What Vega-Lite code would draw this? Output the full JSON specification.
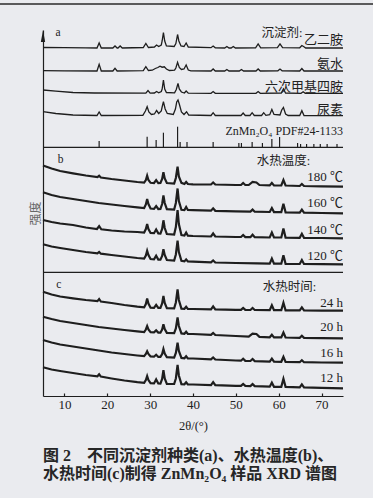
{
"$schema":"https://vega.github.io/schema/vega-lite/v6.json",
"width":300,"height":366,
"autosize":{"type":"none"},
"padding":{"left":43,"top":30,"right":30,"bottom":102},
"background":"#eaebef",
"config":{"view":{"stroke":null},"font":"Liberation Serif, Noto Sans CJK SC"},
"title":{"text":["图 2　不同沉淀剂种类(a)、水热温度(b)、","水热时间(c)制得 ZnMn₂O₄ 样品 XRD 谱图"],"orient":"bottom","anchor":"start","frame":"group","font":"Liberation Serif, Noto Sans CJK SC","fontSize":16,"fontWeight":"bold","color":"#262626","lineHeight":18,"offset":16},
"datasets":{
"xrd":[
{"p":"a","s":"a1","x":5,"y":348.5},{"p":"a","s":"a1","x":10,"y":348.3},{"p":"a","s":"a1","x":15,"y":348.2},{"p":"a","s":"a1","x":17.6,"y":348},{"p":"a","s":"a1","x":18.1,"y":353},{"p":"a","s":"a1","x":18.6,"y":348},{"p":"a","s":"a1","x":21.3,"y":348},{"p":"a","s":"a1","x":21.8,"y":350},{"p":"a","s":"a1","x":22.3,"y":348},{"p":"a","s":"a1","x":22.5,"y":348},{"p":"a","s":"a1","x":23,"y":350},{"p":"a","s":"a1","x":23.5,"y":348},{"p":"a","s":"a1","x":28.4,"y":348.5},{"p":"a","s":"a1","x":29,"y":352.5},{"p":"a","s":"a1","x":29.6,"y":348.5},{"p":"a","s":"a1","x":31,"y":349},{"p":"a","s":"a1","x":31.5,"y":351},{"p":"a","s":"a1","x":32,"y":349.5},{"p":"a","s":"a1","x":32.6,"y":351},{"p":"a","s":"a1","x":32.8,"y":355},{"p":"a","s":"a1","x":33.1,"y":363.5},{"p":"a","s":"a1","x":33.4,"y":355},{"p":"a","s":"a1","x":33.8,"y":350},{"p":"a","s":"a1","x":35.6,"y":349.5},{"p":"a","s":"a1","x":36,"y":352.5},{"p":"a","s":"a1","x":36.4,"y":361.5},{"p":"a","s":"a1","x":36.7,"y":355},{"p":"a","s":"a1","x":37.2,"y":350},{"p":"a","s":"a1","x":37.9,"y":349.5},{"p":"a","s":"a1","x":38.4,"y":353},{"p":"a","s":"a1","x":38.9,"y":349},{"p":"a","s":"a1","x":44.2,"y":348.3},{"p":"a","s":"a1","x":44.7,"y":350},{"p":"a","s":"a1","x":45.2,"y":348.2},{"p":"a","s":"a1","x":47.4,"y":348},{"p":"a","s":"a1","x":47.9,"y":349.5},{"p":"a","s":"a1","x":48.4,"y":348},{"p":"a","s":"a1","x":48.9,"y":348},{"p":"a","s":"a1","x":49.4,"y":349.5},{"p":"a","s":"a1","x":49.9,"y":348},{"p":"a","s":"a1","x":54.6,"y":348.2},{"p":"a","s":"a1","x":55.2,"y":352},{"p":"a","s":"a1","x":55.8,"y":348.2},{"p":"a","s":"a1","x":59.7,"y":348.3},{"p":"a","s":"a1","x":60.3,"y":352},{"p":"a","s":"a1","x":60.9,"y":348.3},{"p":"a","s":"a1","x":64.9,"y":348.2},{"p":"a","s":"a1","x":65.4,"y":350.5},{"p":"a","s":"a1","x":65.8,"y":349.5},{"p":"a","s":"a1","x":66.3,"y":348},{"p":"a","s":"a1","x":70,"y":348},{"p":"a","s":"a1","x":75,"y":348},
{"p":"a","s":"a2","x":5,"y":325.3},{"p":"a","s":"a2","x":10,"y":325.2},{"p":"a","s":"a2","x":17.6,"y":325},{"p":"a","s":"a2","x":18.1,"y":331.7},{"p":"a","s":"a2","x":18.6,"y":325},{"p":"a","s":"a2","x":21.3,"y":325},{"p":"a","s":"a2","x":21.8,"y":327.7},{"p":"a","s":"a2","x":22.3,"y":325},{"p":"a","s":"a2","x":28.4,"y":325.3},{"p":"a","s":"a2","x":29,"y":329.3},{"p":"a","s":"a2","x":29.6,"y":325.5},{"p":"a","s":"a2","x":30.5,"y":325.8},{"p":"a","s":"a2","x":31.2,"y":327.5},{"p":"a","s":"a2","x":31.8,"y":328.5},{"p":"a","s":"a2","x":32.3,"y":329.8},{"p":"a","s":"a2","x":32.8,"y":328.8},{"p":"a","s":"a2","x":33.3,"y":329.2},{"p":"a","s":"a2","x":33.8,"y":327},{"p":"a","s":"a2","x":34.5,"y":325.5},{"p":"a","s":"a2","x":35.7,"y":325.8},{"p":"a","s":"a2","x":36,"y":328},{"p":"a","s":"a2","x":36.4,"y":333.7},{"p":"a","s":"a2","x":36.8,"y":328.5},{"p":"a","s":"a2","x":37.3,"y":326.5},{"p":"a","s":"a2","x":37.9,"y":327},{"p":"a","s":"a2","x":38.4,"y":331},{"p":"a","s":"a2","x":38.9,"y":326},{"p":"a","s":"a2","x":39.5,"y":325.2},{"p":"a","s":"a2","x":44.2,"y":325},{"p":"a","s":"a2","x":44.7,"y":327},{"p":"a","s":"a2","x":45.2,"y":325},{"p":"a","s":"a2","x":47.4,"y":325},{"p":"a","s":"a2","x":47.9,"y":326.5},{"p":"a","s":"a2","x":48.4,"y":325},{"p":"a","s":"a2","x":50.8,"y":325},{"p":"a","s":"a2","x":51.3,"y":326.5},{"p":"a","s":"a2","x":51.8,"y":325},{"p":"a","s":"a2","x":54.7,"y":325},{"p":"a","s":"a2","x":55.2,"y":327},{"p":"a","s":"a2","x":55.7,"y":325},{"p":"a","s":"a2","x":59.8,"y":325.2},{"p":"a","s":"a2","x":60.3,"y":327},{"p":"a","s":"a2","x":60.8,"y":325.2},{"p":"a","s":"a2","x":64.9,"y":325},{"p":"a","s":"a2","x":65.4,"y":327.5},{"p":"a","s":"a2","x":65.9,"y":325},{"p":"a","s":"a2","x":70,"y":325},{"p":"a","s":"a2","x":75,"y":325},
{"p":"a","s":"a3","x":5,"y":306},{"p":"a","s":"a3","x":8,"y":304.8},{"p":"a","s":"a3","x":12,"y":303.5},{"p":"a","s":"a3","x":17,"y":303},{"p":"a","s":"a3","x":29,"y":302.8},{"p":"a","s":"a3","x":29.5,"y":305.5},{"p":"a","s":"a3","x":30,"y":302.8},{"p":"a","s":"a3","x":31,"y":303},{"p":"a","s":"a3","x":31.5,"y":304.5},{"p":"a","s":"a3","x":32,"y":303.2},{"p":"a","s":"a3","x":32.6,"y":304.5},{"p":"a","s":"a3","x":32.8,"y":307},{"p":"a","s":"a3","x":33.1,"y":316},{"p":"a","s":"a3","x":33.4,"y":307},{"p":"a","s":"a3","x":33.8,"y":303.5},{"p":"a","s":"a3","x":35.7,"y":303.2},{"p":"a","s":"a3","x":36.1,"y":306.5},{"p":"a","s":"a3","x":36.5,"y":312.7},{"p":"a","s":"a3","x":36.8,"y":307},{"p":"a","s":"a3","x":37.3,"y":304},{"p":"a","s":"a3","x":38,"y":303},{"p":"a","s":"a3","x":38.4,"y":305},{"p":"a","s":"a3","x":38.9,"y":302.8},{"p":"a","s":"a3","x":44.2,"y":302.7},{"p":"a","s":"a3","x":44.7,"y":304.5},{"p":"a","s":"a3","x":45.2,"y":302.7},{"p":"a","s":"a3","x":54.7,"y":302.7},{"p":"a","s":"a3","x":55.2,"y":304.5},{"p":"a","s":"a3","x":55.7,"y":302.7},{"p":"a","s":"a3","x":60.6,"y":303},{"p":"a","s":"a3","x":61.1,"y":307},{"p":"a","s":"a3","x":61.6,"y":303},{"p":"a","s":"a3","x":65.2,"y":302.7},{"p":"a","s":"a3","x":65.7,"y":304.2},{"p":"a","s":"a3","x":66.2,"y":302.7},{"p":"a","s":"a3","x":75,"y":302.7},
{"p":"a","s":"a4","x":5,"y":284.3},{"p":"a","s":"a4","x":8,"y":282.5},{"p":"a","s":"a4","x":12,"y":281},{"p":"a","s":"a4","x":17.6,"y":280.5},{"p":"a","s":"a4","x":18.1,"y":284},{"p":"a","s":"a4","x":18.6,"y":280.5},{"p":"a","s":"a4","x":28.3,"y":280.6},{"p":"a","s":"a4","x":28.9,"y":285},{"p":"a","s":"a4","x":29.3,"y":289.3},{"p":"a","s":"a4","x":29.7,"y":284},{"p":"a","s":"a4","x":30.3,"y":281.5},{"p":"a","s":"a4","x":31,"y":282},{"p":"a","s":"a4","x":31.5,"y":285.5},{"p":"a","s":"a4","x":32,"y":282.5},{"p":"a","s":"a4","x":32.6,"y":285},{"p":"a","s":"a4","x":32.8,"y":289},{"p":"a","s":"a4","x":33.1,"y":294.3},{"p":"a","s":"a4","x":33.5,"y":287},{"p":"a","s":"a4","x":34,"y":282.5},{"p":"a","s":"a4","x":35.4,"y":281.5},{"p":"a","s":"a4","x":35.9,"y":287},{"p":"a","s":"a4","x":36.2,"y":294},{"p":"a","s":"a4","x":36.5,"y":296},{"p":"a","s":"a4","x":36.8,"y":292},{"p":"a","s":"a4","x":37.3,"y":284},{"p":"a","s":"a4","x":37.9,"y":281.5},{"p":"a","s":"a4","x":38.5,"y":284.3},{"p":"a","s":"a4","x":39,"y":281},{"p":"a","s":"a4","x":44.2,"y":280.5},{"p":"a","s":"a4","x":44.7,"y":283.3},{"p":"a","s":"a4","x":45.2,"y":280.5},{"p":"a","s":"a4","x":51.2,"y":280.5},{"p":"a","s":"a4","x":51.7,"y":283},{"p":"a","s":"a4","x":52.2,"y":280.5},{"p":"a","s":"a4","x":53.3,"y":280.5},{"p":"a","s":"a4","x":53.8,"y":283.3},{"p":"a","s":"a4","x":54.3,"y":280.5},{"p":"a","s":"a4","x":56,"y":280.5},{"p":"a","s":"a4","x":56.5,"y":283.3},{"p":"a","s":"a4","x":57,"y":280.7},{"p":"a","s":"a4","x":57.9,"y":281.3},{"p":"a","s":"a4","x":58.4,"y":286.5},{"p":"a","s":"a4","x":58.9,"y":281.5},{"p":"a","s":"a4","x":60.3,"y":281},{"p":"a","s":"a4","x":60.7,"y":286},{"p":"a","s":"a4","x":61.1,"y":288.5},{"p":"a","s":"a4","x":61.6,"y":282},{"p":"a","s":"a4","x":62.2,"y":280.5},{"p":"a","s":"a4","x":64.9,"y":280.5},{"p":"a","s":"a4","x":65.4,"y":285.3},{"p":"a","s":"a4","x":65.9,"y":280.5},{"p":"a","s":"a4","x":75,"y":280.3},
{"p":"b","s":"b1","x":5,"y":230.5},{"p":"b","s":"b1","x":7,"y":227.5},{"p":"b","s":"b1","x":9,"y":225},{"p":"b","s":"b1","x":12,"y":222.7},{"p":"b","s":"b1","x":15,"y":220.5},{"p":"b","s":"b1","x":17.7,"y":218.8},{"p":"b","s":"b1","x":18.1,"y":220.2},{"p":"b","s":"b1","x":18.5,"y":218.5},{"p":"b","s":"b1","x":21,"y":217},{"p":"b","s":"b1","x":24,"y":215.5},{"p":"b","s":"b1","x":27,"y":214},{"p":"b","s":"b1","x":28.6,"y":213.4},{"p":"b","s":"b1","x":29,"y":216},{"p":"b","s":"b1","x":29.3,"y":220.3},{"p":"b","s":"b1","x":29.6,"y":216},{"p":"b","s":"b1","x":30.1,"y":213.2},{"p":"b","s":"b1","x":30.9,"y":213},{"p":"b","s":"b1","x":31.4,"y":215.8},{"p":"b","s":"b1","x":31.9,"y":212.8},{"p":"b","s":"b1","x":32.4,"y":213},{"p":"b","s":"b1","x":32.8,"y":217},{"p":"b","s":"b1","x":33.1,"y":223.7},{"p":"b","s":"b1","x":33.4,"y":217.5},{"p":"b","s":"b1","x":33.9,"y":213},{"p":"b","s":"b1","x":35.6,"y":212.4},{"p":"b","s":"b1","x":36,"y":218},{"p":"b","s":"b1","x":36.4,"y":229.3},{"p":"b","s":"b1","x":36.7,"y":219.5},{"p":"b","s":"b1","x":37.3,"y":213.2},{"p":"b","s":"b1","x":38,"y":212},{"p":"b","s":"b1","x":38.4,"y":214},{"p":"b","s":"b1","x":38.8,"y":212},{"p":"b","s":"b1","x":40,"y":211.7},{"p":"b","s":"b1","x":44.2,"y":211.5},{"p":"b","s":"b1","x":44.7,"y":213.5},{"p":"b","s":"b1","x":45.2,"y":211.5},{"p":"b","s":"b1","x":50,"y":211},{"p":"b","s":"b1","x":51.2,"y":211},{"p":"b","s":"b1","x":51.7,"y":213},{"p":"b","s":"b1","x":52.2,"y":211},{"p":"b","s":"b1","x":53,"y":211},{"p":"b","s":"b1","x":53.9,"y":214},{"p":"b","s":"b1","x":54.8,"y":213.5},{"p":"b","s":"b1","x":55.5,"y":211},{"p":"b","s":"b1","x":57.9,"y":210.6},{"p":"b","s":"b1","x":58.4,"y":213},{"p":"b","s":"b1","x":58.9,"y":210.6},{"p":"b","s":"b1","x":60.6,"y":210.5},{"p":"b","s":"b1","x":61.1,"y":216},{"p":"b","s":"b1","x":61.6,"y":210.5},{"p":"b","s":"b1","x":64.9,"y":210},{"p":"b","s":"b1","x":65.4,"y":212},{"p":"b","s":"b1","x":65.9,"y":210},{"p":"b","s":"b1","x":70,"y":209.7},{"p":"b","s":"b1","x":75,"y":209.3},
{"p":"b","s":"b2","x":5,"y":203.7},{"p":"b","s":"b2","x":7,"y":201},{"p":"b","s":"b2","x":9,"y":199},{"p":"b","s":"b2","x":12,"y":197},{"p":"b","s":"b2","x":15,"y":195},{"p":"b","s":"b2","x":18,"y":193},{"p":"b","s":"b2","x":21,"y":191.5},{"p":"b","s":"b2","x":24,"y":190},{"p":"b","s":"b2","x":27,"y":188.7},{"p":"b","s":"b2","x":28.6,"y":188},{"p":"b","s":"b2","x":29,"y":191.5},{"p":"b","s":"b2","x":29.3,"y":197},{"p":"b","s":"b2","x":29.6,"y":192},{"p":"b","s":"b2","x":30.1,"y":187.5},{"p":"b","s":"b2","x":30.9,"y":187.2},{"p":"b","s":"b2","x":31.4,"y":190},{"p":"b","s":"b2","x":31.9,"y":187},{"p":"b","s":"b2","x":32.4,"y":187.1},{"p":"b","s":"b2","x":32.8,"y":192},{"p":"b","s":"b2","x":33.1,"y":200.5},{"p":"b","s":"b2","x":33.4,"y":193},{"p":"b","s":"b2","x":33.9,"y":186.8},{"p":"b","s":"b2","x":35.6,"y":186.4},{"p":"b","s":"b2","x":36,"y":193},{"p":"b","s":"b2","x":36.4,"y":207.5},{"p":"b","s":"b2","x":36.7,"y":195},{"p":"b","s":"b2","x":37.3,"y":186.2},{"p":"b","s":"b2","x":38,"y":186},{"p":"b","s":"b2","x":38.4,"y":189},{"p":"b","s":"b2","x":38.8,"y":186},{"p":"b","s":"b2","x":40,"y":185.8},{"p":"b","s":"b2","x":44.2,"y":185.3},{"p":"b","s":"b2","x":44.7,"y":187.7},{"p":"b","s":"b2","x":45.2,"y":185.2},{"p":"b","s":"b2","x":50,"y":184.7},{"p":"b","s":"b2","x":53.4,"y":184.4},{"p":"b","s":"b2","x":53.9,"y":186.4},{"p":"b","s":"b2","x":54.4,"y":184.3},{"p":"b","s":"b2","x":57.9,"y":184},{"p":"b","s":"b2","x":58.4,"y":188},{"p":"b","s":"b2","x":58.9,"y":183.9},{"p":"b","s":"b2","x":60.6,"y":183.8},{"p":"b","s":"b2","x":61.1,"y":192.2},{"p":"b","s":"b2","x":61.6,"y":183.7},{"p":"b","s":"b2","x":64.9,"y":183.3},{"p":"b","s":"b2","x":65.4,"y":186.3},{"p":"b","s":"b2","x":65.9,"y":183.3},{"p":"b","s":"b2","x":70,"y":183},{"p":"b","s":"b2","x":75,"y":182.7},
{"p":"b","s":"b3","x":5,"y":176},{"p":"b","s":"b3","x":7,"y":174},{"p":"b","s":"b3","x":9,"y":172.5},{"p":"b","s":"b3","x":12,"y":171},{"p":"b","s":"b3","x":15,"y":168.5},{"p":"b","s":"b3","x":17.6,"y":167},{"p":"b","s":"b3","x":18.1,"y":169.8},{"p":"b","s":"b3","x":18.6,"y":166.7},{"p":"b","s":"b3","x":21,"y":165.5},{"p":"b","s":"b3","x":24,"y":164.5},{"p":"b","s":"b3","x":27,"y":164},{"p":"b","s":"b3","x":28.6,"y":163.5},{"p":"b","s":"b3","x":29,"y":167},{"p":"b","s":"b3","x":29.3,"y":172},{"p":"b","s":"b3","x":29.6,"y":167},{"p":"b","s":"b3","x":30.1,"y":163},{"p":"b","s":"b3","x":30.9,"y":162.8},{"p":"b","s":"b3","x":31.4,"y":166.5},{"p":"b","s":"b3","x":31.9,"y":162.6},{"p":"b","s":"b3","x":32.4,"y":162.4},{"p":"b","s":"b3","x":32.8,"y":167},{"p":"b","s":"b3","x":33.1,"y":175.7},{"p":"b","s":"b3","x":33.4,"y":168},{"p":"b","s":"b3","x":33.9,"y":162},{"p":"b","s":"b3","x":35.6,"y":161.5},{"p":"b","s":"b3","x":36,"y":169},{"p":"b","s":"b3","x":36.4,"y":186},{"p":"b","s":"b3","x":36.7,"y":172},{"p":"b","s":"b3","x":37.3,"y":161},{"p":"b","s":"b3","x":38,"y":160.5},{"p":"b","s":"b3","x":38.4,"y":163.5},{"p":"b","s":"b3","x":38.8,"y":160.3},{"p":"b","s":"b3","x":40,"y":160},{"p":"b","s":"b3","x":44.2,"y":159.5},{"p":"b","s":"b3","x":44.7,"y":162.5},{"p":"b","s":"b3","x":45.2,"y":159.5},{"p":"b","s":"b3","x":50,"y":159},{"p":"b","s":"b3","x":51.2,"y":159},{"p":"b","s":"b3","x":51.7,"y":161},{"p":"b","s":"b3","x":52.2,"y":158.9},{"p":"b","s":"b3","x":53.4,"y":158.8},{"p":"b","s":"b3","x":53.9,"y":161.3},{"p":"b","s":"b3","x":54.4,"y":158.8},{"p":"b","s":"b3","x":57.9,"y":158.5},{"p":"b","s":"b3","x":58.4,"y":163.5},{"p":"b","s":"b3","x":58.9,"y":158.5},{"p":"b","s":"b3","x":60.6,"y":158.5},{"p":"b","s":"b3","x":61.1,"y":167.5},{"p":"b","s":"b3","x":61.6,"y":158.4},{"p":"b","s":"b3","x":64.9,"y":158.2},{"p":"b","s":"b3","x":65.4,"y":162.2},{"p":"b","s":"b3","x":65.9,"y":158.2},{"p":"b","s":"b3","x":70,"y":158},{"p":"b","s":"b3","x":75,"y":157.7},
{"p":"b","s":"b4","x":5,"y":151.7},{"p":"b","s":"b4","x":7,"y":149.5},{"p":"b","s":"b4","x":9,"y":148},{"p":"b","s":"b4","x":12,"y":146},{"p":"b","s":"b4","x":15,"y":144},{"p":"b","s":"b4","x":17.7,"y":142.6},{"p":"b","s":"b4","x":18.1,"y":144},{"p":"b","s":"b4","x":18.5,"y":142.3},{"p":"b","s":"b4","x":21,"y":141},{"p":"b","s":"b4","x":24,"y":139.5},{"p":"b","s":"b4","x":27,"y":138},{"p":"b","s":"b4","x":28.6,"y":137.5},{"p":"b","s":"b4","x":29,"y":140.5},{"p":"b","s":"b4","x":29.3,"y":145.2},{"p":"b","s":"b4","x":29.6,"y":141},{"p":"b","s":"b4","x":30.1,"y":137},{"p":"b","s":"b4","x":30.9,"y":136.6},{"p":"b","s":"b4","x":31.4,"y":140.3},{"p":"b","s":"b4","x":31.9,"y":136.4},{"p":"b","s":"b4","x":32.4,"y":136.3},{"p":"b","s":"b4","x":32.8,"y":140},{"p":"b","s":"b4","x":33.1,"y":146.7},{"p":"b","s":"b4","x":33.4,"y":141},{"p":"b","s":"b4","x":33.9,"y":136},{"p":"b","s":"b4","x":35.6,"y":135.5},{"p":"b","s":"b4","x":36,"y":141.5},{"p":"b","s":"b4","x":36.4,"y":155.3},{"p":"b","s":"b4","x":36.7,"y":144},{"p":"b","s":"b4","x":37.3,"y":135.2},{"p":"b","s":"b4","x":38,"y":134.6},{"p":"b","s":"b4","x":38.4,"y":136.6},{"p":"b","s":"b4","x":38.8,"y":134.5},{"p":"b","s":"b4","x":40,"y":134.3},{"p":"b","s":"b4","x":44.2,"y":133.6},{"p":"b","s":"b4","x":44.7,"y":135.6},{"p":"b","s":"b4","x":45.2,"y":133.5},{"p":"b","s":"b4","x":50,"y":133},{"p":"b","s":"b4","x":55,"y":132.6},{"p":"b","s":"b4","x":57.9,"y":132.4},{"p":"b","s":"b4","x":58.4,"y":137.4},{"p":"b","s":"b4","x":58.9,"y":132.4},{"p":"b","s":"b4","x":60.6,"y":132.3},{"p":"b","s":"b4","x":61.1,"y":140.8},{"p":"b","s":"b4","x":61.6,"y":132.2},{"p":"b","s":"b4","x":64.9,"y":132},{"p":"b","s":"b4","x":65.4,"y":136},{"p":"b","s":"b4","x":65.9,"y":132},{"p":"b","s":"b4","x":70,"y":131.8},{"p":"b","s":"b4","x":75,"y":131.7},
{"p":"c","s":"c1","x":5,"y":104.3},{"p":"c","s":"c1","x":7,"y":101.5},{"p":"c","s":"c1","x":9,"y":99.5},{"p":"c","s":"c1","x":12,"y":97.7},{"p":"c","s":"c1","x":15,"y":96},{"p":"c","s":"c1","x":17.7,"y":94.8},{"p":"c","s":"c1","x":18.1,"y":97},{"p":"c","s":"c1","x":18.5,"y":94.5},{"p":"c","s":"c1","x":21,"y":93},{"p":"c","s":"c1","x":24,"y":91},{"p":"c","s":"c1","x":27,"y":89.3},{"p":"c","s":"c1","x":28.6,"y":88.6},{"p":"c","s":"c1","x":29,"y":92},{"p":"c","s":"c1","x":29.3,"y":97.5},{"p":"c","s":"c1","x":29.6,"y":92.5},{"p":"c","s":"c1","x":30.1,"y":88.3},{"p":"c","s":"c1","x":30.9,"y":88.2},{"p":"c","s":"c1","x":31.4,"y":91.2},{"p":"c","s":"c1","x":31.9,"y":88.1},{"p":"c","s":"c1","x":32.4,"y":88.1},{"p":"c","s":"c1","x":32.8,"y":92.5},{"p":"c","s":"c1","x":33.1,"y":100},{"p":"c","s":"c1","x":33.4,"y":93},{"p":"c","s":"c1","x":33.9,"y":87.9},{"p":"c","s":"c1","x":35.6,"y":87.7},{"p":"c","s":"c1","x":36,"y":93.5},{"p":"c","s":"c1","x":36.4,"y":106.5},{"p":"c","s":"c1","x":36.7,"y":96},{"p":"c","s":"c1","x":37.3,"y":87.4},{"p":"c","s":"c1","x":38,"y":87.2},{"p":"c","s":"c1","x":38.4,"y":89.2},{"p":"c","s":"c1","x":38.8,"y":87.1},{"p":"c","s":"c1","x":40,"y":87},{"p":"c","s":"c1","x":44.2,"y":86.6},{"p":"c","s":"c1","x":44.7,"y":89.6},{"p":"c","s":"c1","x":45.2,"y":86.6},{"p":"c","s":"c1","x":50,"y":86.2},{"p":"c","s":"c1","x":51.2,"y":86.1},{"p":"c","s":"c1","x":51.7,"y":88.1},{"p":"c","s":"c1","x":52.2,"y":86.1},{"p":"c","s":"c1","x":53.4,"y":86},{"p":"c","s":"c1","x":53.9,"y":88},{"p":"c","s":"c1","x":54.4,"y":86},{"p":"c","s":"c1","x":57.9,"y":85.8},{"p":"c","s":"c1","x":58.4,"y":90.8},{"p":"c","s":"c1","x":58.9,"y":85.8},{"p":"c","s":"c1","x":60.6,"y":85.8},{"p":"c","s":"c1","x":61.1,"y":93.3},{"p":"c","s":"c1","x":61.6,"y":85.7},{"p":"c","s":"c1","x":64.9,"y":85.6},{"p":"c","s":"c1","x":65.4,"y":88.6},{"p":"c","s":"c1","x":65.9,"y":85.6},{"p":"c","s":"c1","x":70,"y":85.4},{"p":"c","s":"c1","x":75,"y":85.3},
{"p":"c","s":"c2","x":5,"y":79.3},{"p":"c","s":"c2","x":7,"y":77},{"p":"c","s":"c2","x":9,"y":75},{"p":"c","s":"c2","x":12,"y":73},{"p":"c","s":"c2","x":15,"y":71},{"p":"c","s":"c2","x":18,"y":69},{"p":"c","s":"c2","x":21,"y":67.5},{"p":"c","s":"c2","x":24,"y":66},{"p":"c","s":"c2","x":27,"y":64.7},{"p":"c","s":"c2","x":28.6,"y":64},{"p":"c","s":"c2","x":29,"y":66.5},{"p":"c","s":"c2","x":29.3,"y":69.9},{"p":"c","s":"c2","x":29.6,"y":66.5},{"p":"c","s":"c2","x":30.1,"y":63.8},{"p":"c","s":"c2","x":30.9,"y":63.6},{"p":"c","s":"c2","x":31.4,"y":65.6},{"p":"c","s":"c2","x":31.9,"y":63.4},{"p":"c","s":"c2","x":32.4,"y":63.3},{"p":"c","s":"c2","x":32.8,"y":66.5},{"p":"c","s":"c2","x":33.1,"y":71.8},{"p":"c","s":"c2","x":33.4,"y":67},{"p":"c","s":"c2","x":33.9,"y":63.1},{"p":"c","s":"c2","x":35.6,"y":62.8},{"p":"c","s":"c2","x":36,"y":67.5},{"p":"c","s":"c2","x":36.4,"y":78.7},{"p":"c","s":"c2","x":36.7,"y":70},{"p":"c","s":"c2","x":37.3,"y":62.6},{"p":"c","s":"c2","x":38,"y":62.2},{"p":"c","s":"c2","x":38.4,"y":64.2},{"p":"c","s":"c2","x":38.8,"y":62.1},{"p":"c","s":"c2","x":40,"y":62},{"p":"c","s":"c2","x":44.2,"y":61.1},{"p":"c","s":"c2","x":44.7,"y":63.1},{"p":"c","s":"c2","x":45.2,"y":61},{"p":"c","s":"c2","x":50,"y":60},{"p":"c","s":"c2","x":53,"y":59.4},{"p":"c","s":"c2","x":53.9,"y":62.4},{"p":"c","s":"c2","x":54.8,"y":62},{"p":"c","s":"c2","x":55.5,"y":59.1},{"p":"c","s":"c2","x":57.9,"y":58.7},{"p":"c","s":"c2","x":58.4,"y":61.2},{"p":"c","s":"c2","x":58.9,"y":58.6},{"p":"c","s":"c2","x":60.6,"y":58.6},{"p":"c","s":"c2","x":61.1,"y":63.5},{"p":"c","s":"c2","x":61.6,"y":58.5},{"p":"c","s":"c2","x":64.9,"y":58.2},{"p":"c","s":"c2","x":65.4,"y":60.2},{"p":"c","s":"c2","x":65.9,"y":58.2},{"p":"c","s":"c2","x":70,"y":57.9},{"p":"c","s":"c2","x":75,"y":57.7},
{"p":"c","s":"c3","x":5,"y":56},{"p":"c","s":"c3","x":7,"y":53.5},{"p":"c","s":"c3","x":9,"y":51.5},{"p":"c","s":"c3","x":12,"y":49.5},{"p":"c","s":"c3","x":15,"y":47.5},{"p":"c","s":"c3","x":18,"y":45.5},{"p":"c","s":"c3","x":21,"y":43.5},{"p":"c","s":"c3","x":24,"y":42},{"p":"c","s":"c3","x":27,"y":40.5},{"p":"c","s":"c3","x":28.6,"y":39.8},{"p":"c","s":"c3","x":29,"y":42},{"p":"c","s":"c3","x":29.3,"y":44.7},{"p":"c","s":"c3","x":29.6,"y":42},{"p":"c","s":"c3","x":30.1,"y":39.5},{"p":"c","s":"c3","x":30.9,"y":39.3},{"p":"c","s":"c3","x":31.4,"y":41.3},{"p":"c","s":"c3","x":31.9,"y":39.1},{"p":"c","s":"c3","x":32.4,"y":39.1},{"p":"c","s":"c3","x":32.8,"y":42},{"p":"c","s":"c3","x":33.1,"y":47},{"p":"c","s":"c3","x":33.4,"y":42.5},{"p":"c","s":"c3","x":33.9,"y":38.8},{"p":"c","s":"c3","x":35.6,"y":38.3},{"p":"c","s":"c3","x":36,"y":43},{"p":"c","s":"c3","x":36.4,"y":53.3},{"p":"c","s":"c3","x":36.7,"y":45},{"p":"c","s":"c3","x":37.3,"y":38.1},{"p":"c","s":"c3","x":38,"y":37.7},{"p":"c","s":"c3","x":38.4,"y":39.7},{"p":"c","s":"c3","x":38.8,"y":37.6},{"p":"c","s":"c3","x":40,"y":37.5},{"p":"c","s":"c3","x":44.2,"y":36.6},{"p":"c","s":"c3","x":44.7,"y":38.6},{"p":"c","s":"c3","x":45.2,"y":36.5},{"p":"c","s":"c3","x":50,"y":35.5},{"p":"c","s":"c3","x":51.2,"y":35.3},{"p":"c","s":"c3","x":51.7,"y":37.3},{"p":"c","s":"c3","x":52.2,"y":35.2},{"p":"c","s":"c3","x":53.4,"y":35},{"p":"c","s":"c3","x":53.9,"y":37},{"p":"c","s":"c3","x":54.4,"y":34.9},{"p":"c","s":"c3","x":57.9,"y":34.4},{"p":"c","s":"c3","x":58.4,"y":37.4},{"p":"c","s":"c3","x":58.9,"y":34.3},{"p":"c","s":"c3","x":60.6,"y":34.2},{"p":"c","s":"c3","x":61.1,"y":39.2},{"p":"c","s":"c3","x":61.6,"y":34.1},{"p":"c","s":"c3","x":64.9,"y":33.8},{"p":"c","s":"c3","x":65.4,"y":35.8},{"p":"c","s":"c3","x":65.9,"y":33.8},{"p":"c","s":"c3","x":70,"y":33.5},{"p":"c","s":"c3","x":75,"y":33.3},
{"p":"c","s":"c4","x":5,"y":28.7},{"p":"c","s":"c4","x":7,"y":26.5},{"p":"c","s":"c4","x":9,"y":25},{"p":"c","s":"c4","x":12,"y":23},{"p":"c","s":"c4","x":15,"y":21},{"p":"c","s":"c4","x":17.7,"y":19.7},{"p":"c","s":"c4","x":18.1,"y":21.7},{"p":"c","s":"c4","x":18.5,"y":19.4},{"p":"c","s":"c4","x":21,"y":17.5},{"p":"c","s":"c4","x":24,"y":15.5},{"p":"c","s":"c4","x":27,"y":13.8},{"p":"c","s":"c4","x":28.6,"y":13.1},{"p":"c","s":"c4","x":29,"y":16},{"p":"c","s":"c4","x":29.3,"y":20},{"p":"c","s":"c4","x":29.6,"y":16},{"p":"c","s":"c4","x":30.1,"y":12.8},{"p":"c","s":"c4","x":30.9,"y":12.6},{"p":"c","s":"c4","x":31.4,"y":16.6},{"p":"c","s":"c4","x":31.9,"y":12.5},{"p":"c","s":"c4","x":32.4,"y":12.4},{"p":"c","s":"c4","x":32.8,"y":17},{"p":"c","s":"c4","x":33.1,"y":25.8},{"p":"c","s":"c4","x":33.4,"y":17.5},{"p":"c","s":"c4","x":33.9,"y":12.2},{"p":"c","s":"c4","x":35.6,"y":12},{"p":"c","s":"c4","x":36,"y":17.5},{"p":"c","s":"c4","x":36.4,"y":31},{"p":"c","s":"c4","x":36.7,"y":20.5},{"p":"c","s":"c4","x":37.3,"y":11.9},{"p":"c","s":"c4","x":38,"y":11.7},{"p":"c","s":"c4","x":38.4,"y":13.7},{"p":"c","s":"c4","x":38.8,"y":11.6},{"p":"c","s":"c4","x":40,"y":11.5},{"p":"c","s":"c4","x":44.2,"y":10.9},{"p":"c","s":"c4","x":44.7,"y":13.9},{"p":"c","s":"c4","x":45.2,"y":10.8},{"p":"c","s":"c4","x":50,"y":10.2},{"p":"c","s":"c4","x":51.2,"y":10.1},{"p":"c","s":"c4","x":51.7,"y":12.1},{"p":"c","s":"c4","x":52.2,"y":10.1},{"p":"c","s":"c4","x":53.4,"y":9.9},{"p":"c","s":"c4","x":53.9,"y":11.9},{"p":"c","s":"c4","x":54.4,"y":9.9},{"p":"c","s":"c4","x":57.9,"y":9.3},{"p":"c","s":"c4","x":58.4,"y":13.3},{"p":"c","s":"c4","x":58.9,"y":9.2},{"p":"c","s":"c4","x":60.6,"y":9.2},{"p":"c","s":"c4","x":61.1,"y":17.2},{"p":"c","s":"c4","x":61.6,"y":9.1},{"p":"c","s":"c4","x":64.9,"y":8.7},{"p":"c","s":"c4","x":65.4,"y":11.7},{"p":"c","s":"c4","x":65.9,"y":8.7},{"p":"c","s":"c4","x":70,"y":8.2},{"p":"c","s":"c4","x":75,"y":7.7}
],
"pdf":[
{"x":18.1,"top":255},{"x":29.3,"top":259.3},{"x":31.4,"top":256},{"x":33.1,"top":263.3},{"x":36.4,"top":269.3},{"x":37,"top":254},{"x":38.6,"top":254},{"x":44.7,"top":254},{"x":50.7,"top":253},{"x":51.3,"top":253},{"x":53.8,"top":254},{"x":56.2,"top":253},{"x":58.4,"top":257},{"x":60.2,"top":259},{"x":64.4,"top":253},{"x":65.1,"top":252},{"x":66.5,"top":252},{"x":68.2,"top":252},{"x":69.7,"top":252},{"x":71.3,"top":252},{"x":73.6,"top":252}
],
"seps":[{"k":"panel","y":248.7},{"k":"panel","y":123.7},{"k":"frame","y":392}],
"arrow":[{"end":"y-axis"}],
"labels":[
{"k":"sample","t":"乙二胺","x":75,"y":356},
{"k":"sample","t":"氨水","x":75,"y":331.7},
{"k":"sample","t":"六次甲基四胺","x":75,"y":309.3},
{"k":"sample","t":"尿素","x":75,"y":286},
{"k":"ref","t":"ZnMn₂O₄ PDF#24-1133","x":75,"y":265},
{"k":"sample","t":"180 ℃","x":75,"y":218.7},
{"k":"sample","t":"160 ℃","x":75,"y":192.7},
{"k":"sample","t":"140 ℃","x":75,"y":166},
{"k":"sample","t":"120 ℃","x":75,"y":140},
{"k":"sample","t":"24 h","x":75,"y":92.7},
{"k":"sample","t":"20 h","x":75,"y":68.7},
{"k":"sample","t":"16 h","x":75,"y":43.3},
{"k":"sample","t":"12 h","x":75,"y":17.7},
{"k":"heading","t":"沉淀剂:","x":56,"y":362.7},
{"k":"heading","t":"水热温度:","x":54.9,"y":235.3},
{"k":"heading","t":"水热时间:","x":56.3,"y":108.7},
{"k":"panel","t":"a","x":8.5,"y":363},
{"k":"panel","t":"b","x":9.1,"y":236},
{"k":"panel","t":"c","x":8.7,"y":111}
]
},
"layer":[
{"data":{"name":"xrd"},"transform":[{"filter":"datum.p=='a'"}],
 "mark":{"type":"line","strokeWidth":1.3,"color":"#1e1e1e"},
 "encoding":{
  "x":{"field":"x","type":"quantitative","scale":{"domain":[5,75]},"title":"2θ/(°)",
   "axis":{"values":[10,20,30,40,50,60,70],"tickSize":-3,"tickColor":"#1e1e1e","tickWidth":1.2,"labelPadding":5,"labelFont":"Liberation Serif","labelFontSize":13,"labelColor":"#222","domainColor":"#1e1e1e","domainWidth":1.2,"grid":false,"title":"2θ/(°)","titleFont":"Liberation Serif","titleFontSize":12.5,"titleFontWeight":"normal","titleColor":"#222","titlePadding":8}},
  "y":{"field":"y","type":"quantitative","scale":{"domain":[0,366]},"title":"强度",
   "axis":{"ticks":false,"labels":false,"grid":false,"domainColor":"#1e1e1e","domainWidth":1.2,"title":"强度","titleFont":"Noto Sans CJK SC","titleFontSize":12,"titleFontWeight":"normal","titleColor":"#666","titlePadding":1}},
  "detail":{"field":"s"}}},
{"data":{"name":"xrd"},"transform":[{"filter":"datum.p!='a'"}],
 "mark":{"type":"line","strokeWidth":2.2,"color":"#1e1e1e"},
 "encoding":{
  "x":{"field":"x","type":"quantitative","scale":{"domain":[5,75]},"title":"2θ/(°)"},
  "y":{"field":"y","type":"quantitative","scale":{"domain":[0,366]},"title":"强度"},
  "detail":{"field":"s"}}},
{"data":{"name":"pdf"},
 "mark":{"type":"rule","strokeWidth":1.2,"color":"#1e1e1e"},
 "encoding":{
  "x":{"field":"x","type":"quantitative","scale":{"domain":[5,75]},"title":"2θ/(°)"},
  "y":{"field":"top","type":"quantitative","scale":{"domain":[0,366]},"title":"强度"},
  "y2":{"datum":248.7}}},
{"data":{"name":"seps"},"transform":[{"filter":"datum.k=='panel'"}],
 "mark":{"type":"rule","strokeWidth":1.2,"color":"#1e1e1e"},
 "encoding":{
  "y":{"field":"y","type":"quantitative","scale":{"domain":[0,366]},"title":"强度"},
  "x":{"datum":5,"type":"quantitative","scale":{"domain":[5,75]},"title":"2θ/(°)"},
  "x2":{"datum":75}}},
{"data":{"name":"seps"},"transform":[{"filter":"datum.k=='frame'"}],
 "mark":{"type":"rule","strokeWidth":1.5,"color":"#2a2a2a","clip":false,"xOffset":-43,"x2Offset":30},
 "encoding":{
  "y":{"field":"y","type":"quantitative","scale":{"domain":[0,366]},"title":"强度"},
  "x":{"datum":5,"type":"quantitative","scale":{"domain":[5,75]},"title":"2θ/(°)"},
  "x2":{"datum":75}}},
{"data":{"name":"arrow"},
 "mark":{"type":"point","shape":"M0,-1L0.35,1L-0.35,1Z","size":150,"filled":true,"color":"#1e1e1e","opacity":1},
 "encoding":{
  "x":{"datum":5,"type":"quantitative","scale":{"domain":[5,75]},"title":"2θ/(°)"},
  "y":{"datum":360,"type":"quantitative","scale":{"domain":[0,366]},"title":"强度"}}},
{"data":{"name":"labels"},"transform":[{"filter":"datum.k=='sample'"}],
 "mark":{"type":"text","align":"right","baseline":"middle","fontSize":13,"font":"Liberation Serif, Noto Sans CJK SC","color":"#222"},
 "encoding":{
  "x":{"field":"x","type":"quantitative","scale":{"domain":[5,75]},"title":"2θ/(°)"},
  "y":{"field":"y","type":"quantitative","scale":{"domain":[0,366]},"title":"强度"},
  "text":{"field":"t"}}},
{"data":{"name":"labels"},"transform":[{"filter":"datum.k=='ref'"}],
 "mark":{"type":"text","align":"right","baseline":"middle","fontSize":12,"font":"Liberation Serif, Noto Sans CJK SC","color":"#222"},
 "encoding":{
  "x":{"field":"x","type":"quantitative","scale":{"domain":[5,75]},"title":"2θ/(°)"},
  "y":{"field":"y","type":"quantitative","scale":{"domain":[0,366]},"title":"强度"},
  "text":{"field":"t"}}},
{"data":{"name":"labels"},"transform":[{"filter":"datum.k=='heading'"}],
 "mark":{"type":"text","align":"left","baseline":"middle","fontSize":12.5,"font":"Liberation Serif, Noto Sans CJK SC","color":"#222"},
 "encoding":{
  "x":{"field":"x","type":"quantitative","scale":{"domain":[5,75]},"title":"2θ/(°)"},
  "y":{"field":"y","type":"quantitative","scale":{"domain":[0,366]},"title":"强度"},
  "text":{"field":"t"}}},
{"data":{"name":"labels"},"transform":[{"filter":"datum.k=='panel'"}],
 "mark":{"type":"text","align":"center","baseline":"middle","fontSize":11.5,"font":"Liberation Serif","color":"#222"},
 "encoding":{
  "x":{"field":"x","type":"quantitative","scale":{"domain":[5,75]},"title":"2θ/(°)"},
  "y":{"field":"y","type":"quantitative","scale":{"domain":[0,366]},"title":"强度"},
  "text":{"field":"t"}}}
]
}
